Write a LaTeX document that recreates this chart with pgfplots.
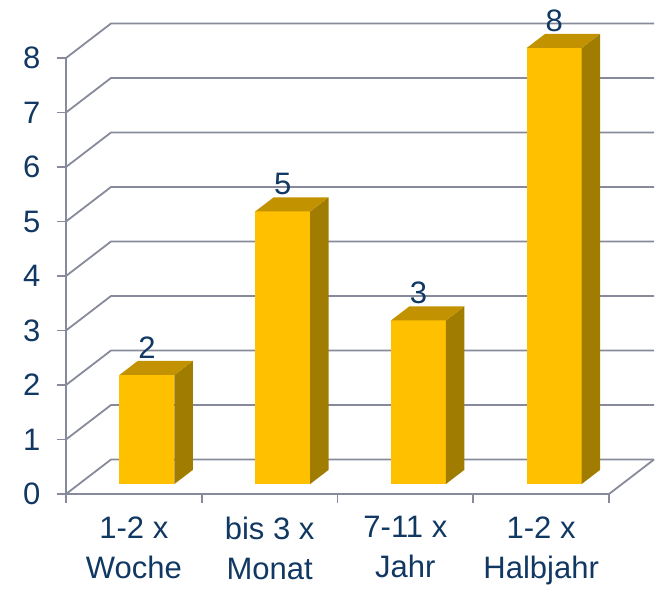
\documentclass[border=0pt]{standalone}
\usepackage{pgfplots}
\usepackage{pgfplotstable}
\pgfplotsset{compat=1.18}
\usepackage{fontspec}
\setmainfont{Liberation Sans}
\definecolor{barfront}{RGB}{255,192,0}
\definecolor{barside}{RGB}{160,124,0}
\definecolor{bartop}{RGB}{194,146,0}
\definecolor{gridc}{RGB}{134,138,155}
\definecolor{txtc}{RGB}{17,56,99}

\pgfplotstableread{
cat val
0 2
1 5
2 3
3 8
}\datatable

% depth geometry (axis units)
\def\bw{0.2026}
\def\dxa{0.0961}\def\dya{0.1836}
\def\dxb{0.2320}\def\dyb{0.4431}

\newcommand\threedbar[2]{%
  \pgfmathsetmacro\xa{#1-\bw+\dxa}%
  \pgfmathsetmacro\xb{#1+\bw+\dxa}%
  \pgfmathsetmacro\xc{#1+\bw+\dxb}%
  \pgfmathsetmacro\xd{#1-\bw+\dxb}%
  \pgfmathsetmacro\ya{\dya}%
  \pgfmathsetmacro\yb{#2+\dya}%
  \pgfmathsetmacro\yc{\dyb}%
  \pgfmathsetmacro\yd{#2+\dyb}%
  \edef\tmp{%
    \noexpand\addplot[fill=barfront,draw=none,forget plot] coordinates {(\xa,\ya) (\xb,\ya) (\xb,\yb) (\xa,\yb)};
    \noexpand\addplot[fill=barside,draw=none,forget plot] coordinates {(\xb,\ya) (\xc,\yc) (\xc,\yd) (\xb,\yb)};
    \noexpand\addplot[fill=bartop,draw=none,forget plot] coordinates {(\xa,\yb) (\xb,\yb) (\xc,\yd) (\xd,\yd)};
  }%
  \tmp
}

\begin{document}
\begin{tikzpicture}
\begin{axis}[
  x=135.75pt, y=54.5pt,
  xmin=-0.5, xmax=3.5, ymin=0, ymax=8,
  clip=false,
  axis x line=bottom, axis y line=left,
  axis line style={draw=gridc, line width=1.8pt, -},
  tick style={draw=gridc, line width=1.8pt},
  tick align=outside,
  major tick length=9pt,
  ytick={0,1,...,8},
  xtick={-0.5,0.5,1.5,2.5,3.5},
  xticklabels={},
  extra x ticks={0,1,2,3},
  extra x tick labels={{1-2 x\\Woche},{bis 3 x\\Monat},{7-11 x\\Jahr},{1-2 x\\Halbjahr}},
  extra x tick style={major tick length=0pt, xticklabel style={align=center}},
  every tick label/.append style={font=\fontsize{31}{40}\selectfont, text=txtc},
  /pgf/number format/assume math mode=true,
  xticklabel style={yshift=-19pt},
  yticklabel style={xshift=-13pt},
]
% 3D grid (left wall + back wall)
\pgfplotsinvokeforeach{0,...,8}{
  \draw[gridc, line width=1.8pt] (axis cs:-0.5,#1) -- (axis cs:-0.1685,#1+0.633) -- (axis cs:3.8315,#1+0.633);
}
\draw[gridc, line width=1.8pt] (axis cs:3.5,0) -- (axis cs:3.8315,0.633);
% bars
\pgfplotsinvokeforeach{0,...,3}{
  \pgfplotstablegetelem{#1}{val}\of\datatable
  \threedbar{#1}{\pgfplotsretval}
}
% value labels
\addplot[draw=none, mark=none, nodes near coords, point meta=explicit,
  nodes near coords style={anchor=south, font=\fontsize{31}{36}\selectfont, text=txtc, inner sep=2pt}]
  table[x expr=\thisrow{cat}+0.0961, y expr=\thisrow{val}+0.4431, meta=val] {\datatable};
\coordinate (bl) at (axis cs:-0.9862,-1.798);
\coordinate (tr) at (axis cs:3.905,9.064);
\end{axis}
\pgfresetboundingbox
\path[use as bounding box] (bl) rectangle (tr);
\end{tikzpicture}
\end{document}
